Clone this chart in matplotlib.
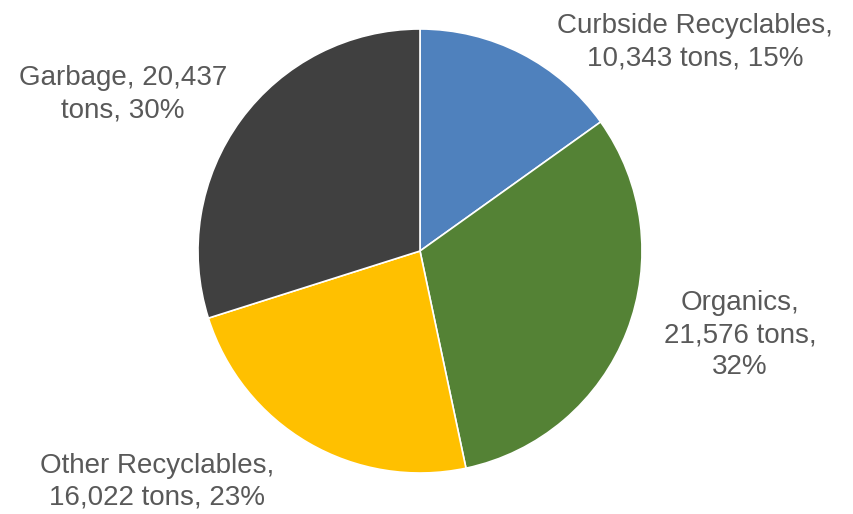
import matplotlib.pyplot as plt

categories = ['Curbside Recyclables', 'Organics', 'Other Recyclables', 'Garbage']
tons = [10343, 21576, 16022, 20437]
colors = ['#4F81BD', '#548235', '#FFC000', '#404040']

# where each label sits, in pixels from the top-left of the figure
label_px = [(695, 42), (740, 335), (157, 482), (123, 94)]
label_text = [
    '{},\n{:,} tons, {}%',
    '{},\n{:,} tons,\n{}%',
    '{},\n{:,} tons, {}%',
    '{}, {:,}\ntons, {}%',
]

W, H = 854, 514
cx, cy, r = 420, 251, 222

plt.rcParams['font.family'] = ['Liberation Sans', 'DejaVu Sans']

fig = plt.figure(figsize=(W / 100, H / 100), dpi=100)
ax = fig.add_axes([0, 0, 1, 1])

ax.pie(tons, colors=colors, startangle=90, counterclock=False, radius=1,
       wedgeprops=dict(edgecolor='white', linewidth=1.2))

# pie() resets the limits, so set them afterwards
ax.set_xlim(-cx / r, (W - cx) / r)
ax.set_ylim(-(H - cy) / r, cy / r)
ax.set_aspect('equal')
ax.axis('off')

total = sum(tons)
for name, t, fmt, (px, py) in zip(categories, tons, label_text, label_px):
    pct = round(100 * t / total)
    ax.text((px - cx) / r, (cy - py) / r, fmt.format(name, t, pct),
            ha='center', va='center', fontsize=20, color='#595959',
            linespacing=1.3)

fig.savefig('out.png', dpi=100)
